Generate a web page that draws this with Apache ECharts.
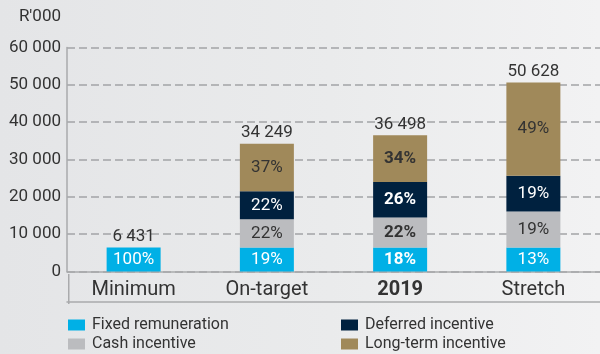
<!DOCTYPE html>
<html>
<head>
<meta charset="utf-8">
<script src="https://cdn.jsdelivr.net/npm/echarts@6/dist/echarts.min.js"></script>
<style>
  html, body { margin: 0; padding: 0; }
  body { background: linear-gradient(90deg, #e4e5e7 0%, #eaebec 55%, #f2f2f3 100%); }
  #chart { width: 600px; height: 354px; }
</style>
</head>
<body>
<div id="chart"></div>
<script>
// Remuneration scenarios, values in R'000
const categories = ['Minimum', 'On-target', '2019', 'Stretch'];
const totals = [6431, 34249, 36498, 50628];

const fixedValues    = [6431, 6431, 6431, 6431];
const cashValues     = [0, 7535, 8030, 9620];
const deferredValues = [0, 7535, 9490, 9620];
const ltiValues      = [0, 12748, 12547, 24957];

const fixedPct    = [100, 19, 18, 13];
const cashPct     = [null, 22, 22, 19];
const deferredPct = [null, 22, 26, 19];
const ltiPct      = [null, 37, 34, 49];

const yTicks = [0, 10000, 20000, 30000, 40000, 50000, 60000];

// legend reads row by row: left column, then right column
const legendOrder = ['Fixed remuneration', 'Deferred incentive', 'Cash incentive', 'Long-term incentive'];

const FONT = 'Roboto';
const TEXT = '#333333';
const AXIS = '#a9aaac';
const BOLD_CATEGORY = '2019';

function thousands(v) {
  return String(v).replace(/\B(?=(\d{3})+(?!\d))/g, ' ');
}

function segment(name, values, pcts, color, labelColor) {
  return {
    name: name,
    type: 'bar',
    stack: 'pay',
    barWidth: 54,
    barGap: '-100%',
    itemStyle: { color: color },
    data: values.map((v, i) => ({ value: v, pct: pcts[i], cat: categories[i] })),
    label: {
      show: true,
      position: 'inside',
      fontFamily: FONT,
      fontSize: 17,
      color: labelColor,
      formatter: p => p.data.pct == null ? '' :
        (p.data.cat === BOLD_CATEGORY ? '{b|' + p.data.pct + '%}' : p.data.pct + '%'),
      rich: { b: { fontFamily: FONT, fontSize: 17, fontWeight: 'bold', color: labelColor } }
    },
    emphasis: { disabled: true }
  };
}

const chart = echarts.init(document.getElementById('chart'), null, { renderer: 'canvas' });

chart.setOption({
  backgroundColor: 'transparent',
  animation: false,
  textStyle: { fontFamily: FONT },
  grid: { left: 67, top: 47.5, width: 541, height: 224, containLabel: false },
  xAxis: [{
    type: 'category',
    data: categories,
    axisLine: { show: true, lineStyle: { color: AXIS, width: 1.5 } },
    axisTick: { show: false },
    axisLabel: {
      margin: 8,
      fontFamily: FONT,
      fontSize: 20,
      color: TEXT,
      formatter: v => v === BOLD_CATEGORY ? '{b|' + v + '}' : v,
      rich: { b: { fontFamily: FONT, fontSize: 20, fontWeight: 'bold', color: TEXT } }
    }
  }, {
    type: 'category',
    data: categories,
    position: 'bottom',
    offset: 30,
    axisLine: { show: true, lineStyle: { color: AXIS, width: 1.5 } },
    axisTick: { show: false },
    axisLabel: { show: false }
  }],
  yAxis: {
    type: 'value',
    min: yTicks[0],
    max: yTicks[yTicks.length - 1],
    interval: 10000,
    axisLine: { show: true, lineStyle: { color: AXIS, width: 1.5 } },
    axisTick: { show: false },
    axisLabel: {
      margin: 6,
      fontFamily: FONT,
      fontSize: 17,
      color: TEXT,
      formatter: v => thousands(v)
    },
    splitLine: { show: true, lineStyle: { color: '#a3a4a6', width: 1.5, type: [8, 4] } }
  },
  legend: {
    left: 68, top: 317, width: 560,
    orient: 'horizontal',
    padding: 0,
    itemWidth: 17, itemHeight: 11, itemGap: 3,
    icon: 'rect',
    formatter: name => '{n|' + name + '}',
    textStyle: {
      fontFamily: FONT, fontSize: 16, color: TEXT,
      rich: {
        n: {
          fontFamily: FONT, fontSize: 16, color: TEXT,
          width: 246, height: 16, lineHeight: 16, padding: [0, 0, 0, 2]
        }
      }
    },
    data: legendOrder,
    selectedMode: false
  },
  graphic: [{
    type: 'text',
    right: 539, top: 8,
    style: { text: "R'000", fontFamily: FONT, fontSize: 17, fill: TEXT, textAlign: 'right' }
  }, {
    type: 'line',
    left: 66.25, top: 271.5,
    shape: { x1: 0, y1: 0, x2: 0, y2: 30 },
    style: { stroke: AXIS, lineWidth: 1.5 }
  }],
  series: [
    {
      name: 'Total',
      type: 'bar',
      barWidth: 54,
      barGap: '-100%',
      z: 1,
      silent: true,
      itemStyle: { color: 'transparent' },
      data: totals,
      label: {
        show: true,
        position: 'top',
        distance: 2,
        fontFamily: FONT,
        fontSize: 17,
        color: TEXT,
        formatter: p => thousands(p.value)
      }
    },
    segment('Fixed remuneration', fixedValues, fixedPct, '#00b0e6', '#ffffff'),
    segment('Cash incentive', cashValues, cashPct, '#bbbcbf', TEXT),
    segment('Deferred incentive', deferredValues, deferredPct, '#00213f', '#ffffff'),
    segment('Long-term incentive', ltiValues, ltiPct, '#a0895a', TEXT)
  ]
});
</script>
</body>
</html>
